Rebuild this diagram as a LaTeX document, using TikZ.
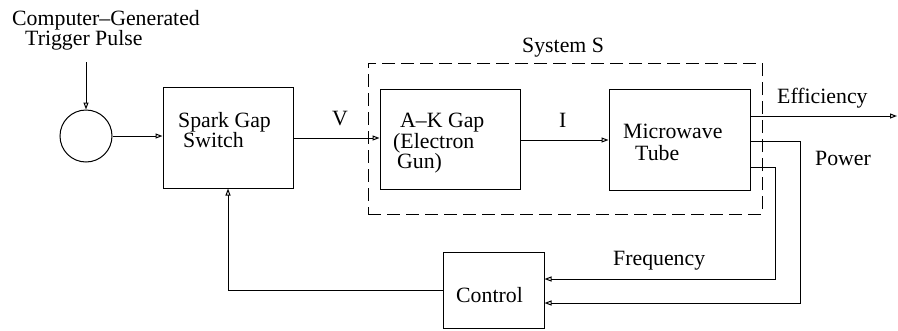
\documentclass[tikz,border=0pt]{standalone}
\usepackage{fontspec}
\setmainfont{LiberationSerif}[Extension=.ttf,UprightFont=*-Regular,Ligatures=TeX]
\usetikzlibrary{arrows.meta}
\begin{document}
\begin{tikzpicture}[x=1pt,y=-1pt,
  blk/.style={draw,line width=1pt,rectangle,inner sep=0pt},
  lbl/.style={anchor=base west,inner sep=0pt,font=\fontsize{21.8}{24}\selectfont},
  conn/.style={draw,line width=1pt,-{Triangle[open,length=7pt,width=5pt]}}]
\useasboundingbox (0,0) rectangle (898,330);
% system dashed box
\node[draw,line width=1pt,dash pattern=on 13pt off 6pt,rectangle,inner sep=0pt,minimum width=394pt,minimum height=151pt] (sys) at (565,138.5) {};
% blocks
\node[draw,line width=1pt,circle,minimum size=52pt,inner sep=0pt] (circ) at (86,136) {};
\node[blk,minimum width=130pt,minimum height=101pt] (spark) at (228,137.5) {};
\node[blk,minimum width=140pt,minimum height=100pt] (akgap) at (450,139) {};
\node[blk,minimum width=141pt,minimum height=101pt] (micro) at (679.5,139.5) {};
\node[blk,minimum width=101pt,minimum height=76pt] (ctrl) at (493.5,290) {};
% texts
\node[lbl] (t1) at (12,25) {Computer--Generated};
\node[lbl] (t2) at (25,45) {Trigger Pulse};
\node[lbl] (t3) at (178,127) {Spark Gap};
\node[lbl] (t4) at (183,147) {Switch};
\node[lbl] (t5) at (332,125) {V};
\node[lbl] (t6) at (400,127) {A--K Gap};
\node[lbl] (t7) at (393,148) {(Electron};
\node[lbl] (t8) at (397,168) {Gun)};
\node[lbl] (t9) at (559,127) {I};
\node[lbl] (t10) at (522,52) {System S};
\node[lbl] (t11) at (623,138) {Microwave};
\node[lbl] (t12) at (635,160) {Tube};
\node[lbl] (t13) at (777,103) {Efficiency};
\node[lbl] (t14) at (815,165) {Power};
\node[lbl] (t15) at (613,265) {Frequency};
\node[lbl] (t16) at (456,302) {Control};
% coordinates
\coordinate (trig) at (86,62);
\coordinate (effend) at (897,116);
\coordinate (pw1) at (800,141);
\coordinate (pw2) at (800,303);
\coordinate (fq1) at (775,167);
\coordinate (fq2) at (775,279);
\coordinate (fb) at (228,290);
% connectors
\draw[conn] (trig) -- (circ.north);
\draw[conn] (circ.east) -- (spark.west |- circ.east);
\draw[conn] (spark.east |- 0,138) -- (akgap.west |- 0,138);
\draw[conn] (akgap.east |- 0,140) -- (micro.west |- 0,140);
\draw[conn] (micro.east |- effend) -- (effend);
\draw[conn] (micro.east |- pw1) -- (pw1) -- (pw2) -- (ctrl.east |- pw2);
\draw[conn] (micro.east |- fq1) -- (fq1) -- (fq2) -- (ctrl.east |- fq2);
\draw[conn] (ctrl.west) -- (fb) -- (spark.south -| fb);
\end{tikzpicture}
\end{document}
